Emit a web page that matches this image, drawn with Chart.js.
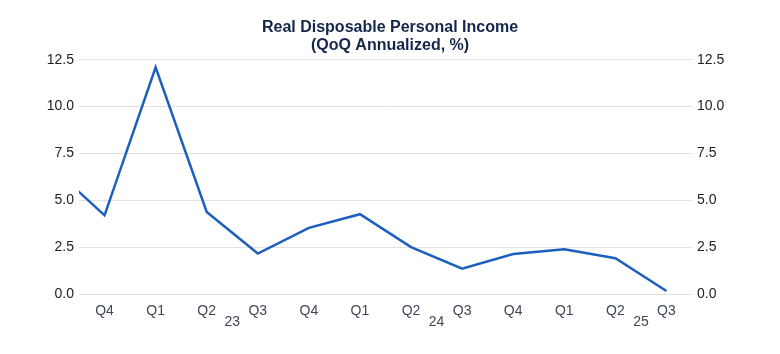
<!DOCTYPE html>
<html>
<head>
<meta charset="utf-8">
<script src="https://cdn.jsdelivr.net/npm/chart.js@4"></script>
<style>
  html, body { margin: 0; padding: 0; background: #fff; }
  #wrap { width: 780px; height: 354px; }
</style>
</head>
<body>
<div id="wrap"><canvas id="lineChart"></canvas></div>
<script>
// quarters from Q3 2022 to Q3 2025 (first one sits left of the plot and gets clipped)
const quarters = ['Q3', 'Q4', 'Q1', 'Q2', 'Q3', 'Q4', 'Q1', 'Q2', 'Q3', 'Q4', 'Q1', 'Q2', 'Q3'];
const rdpi = [6.7, 4.2, 12.1, 4.38, 2.16, 3.53, 4.26, 2.5, 1.35, 2.13, 2.39, 1.91, 0.16];
const yearLabels = ['23', '24', '25'];
const yearPos = [3.5, 7.5, 11.5];
const yTicks = [0, 2.5, 5, 7.5, 10, 12.5];

const FONT = 'Liberation Sans, Arial, sans-serif';
const AXIS_TEXT = '#3f4756';

const CHART = document.getElementById('lineChart').getContext('2d');

const points = rdpi.map((v, i) => ({ x: i, y: v }));

// year labels sit under the quarter row, between Q2 and Q3
const yearRow = {
  id: 'yearRow',
  afterDraw(chart) {
    const x = chart.scales.x;
    const ctx = chart.ctx;
    ctx.save();
    ctx.font = '14px ' + FONT;
    ctx.fillStyle = AXIS_TEXT;
    ctx.textAlign = 'center';
    ctx.textBaseline = 'middle';
    yearLabels.forEach((t, i) => {
      ctx.fillText(t, x.getPixelForValue(yearPos[i]), x.top + 28);
    });
    ctx.restore();
  }
};

const yAxis = (pos, width, grid) => ({
  type: 'linear',
  position: pos,
  min: 0,
  max: 12.5,
  afterBuildTicks: s => { s.ticks = yTicks.map(v => ({ value: v })); },
  afterFit: s => { s.width = width; },
  border: { display: false },
  grid: { display: grid, color: '#e2e2e2', drawTicks: false },
  ticks: {
    padding: 5,
    color: '#222',
    font: { family: FONT, size: 14 },
    callback: v => v.toFixed(1)
  }
});

let myLineChart = new Chart(CHART, {
  type: 'line',
  data: {
    datasets: [{
      data: points,
      borderColor: '#1c5fbf',
      borderWidth: 2.5,
      pointRadius: 0,
      tension: 0,
      yAxisID: 'y',
      xAxisID: 'x'
    }]
  },
  options: {
    responsive: true,
    maintainAspectRatio: false,
    animation: false,
    layout: { padding: { top: 0, bottom: 24, left: 0, right: 0 } },
    plugins: {
      legend: { display: false },
      tooltip: { enabled: false },
      title: {
        display: true,
        text: ['Real Disposable Personal Income', '(QoQ Annualized, %)'],
        color: '#14264a',
        font: { family: FONT, size: 16, weight: 'bold', lineHeight: 1.15 },
        padding: { top: 18, bottom: 5 }
      }
    },
    scales: {
      x: {
        type: 'linear',
        min: 0.5,
        max: 12.5,
        afterBuildTicks: s => { s.ticks = quarters.map((q, i) => ({ value: i })).slice(1); },
        afterFit: s => { s.height = 36; },
        border: { display: false },
        grid: { display: false, drawTicks: false },
        ticks: {
          autoSkip: false,
          maxRotation: 0,
          padding: 9,
          color: AXIS_TEXT,
          font: { family: FONT, size: 14 },
          callback: v => quarters[v]
        }
      },
      y: yAxis('left', 79, true),
      y2: yAxis('right', 88, false)
    }
  },
  plugins: [yearRow]
});
</script>
</body>
</html>
